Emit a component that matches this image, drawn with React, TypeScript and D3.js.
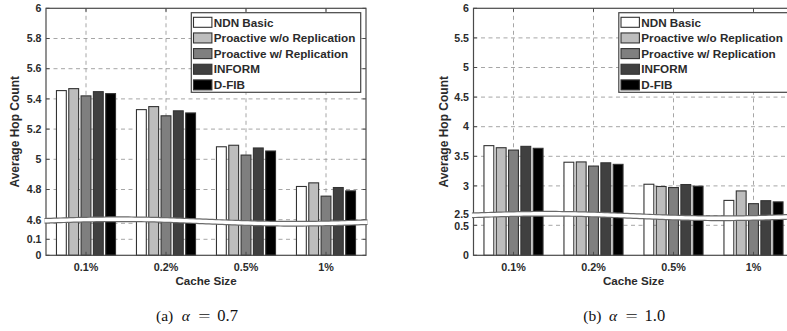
import React from 'react';
import * as d3 from 'd3';

const categories = ['0.1%', '0.2%', '0.5%', '1%'];
const seriesNames = ['NDN Basic', 'Proactive w/o Replication', 'Proactive w/ Replication', 'INFORM', 'D-FIB'];
const seriesColors = ['#ffffff', '#bdbdbd', '#7f7f7f', '#404040', '#000000'];

// (a) alpha = 0.7
const a07NdnBasic = [5.455, 5.329, 5.083, 4.82];
const a07ProNoRep = [5.468, 5.349, 5.093, 4.844];
const a07ProRep = [5.42, 5.288, 5.028, 4.756];
const a07Inform = [5.448, 5.321, 5.075, 4.813];
const a07Dfib = [5.435, 5.307, 5.055, 4.791];

// (b) alpha = 1.0
const a10NdnBasic = [3.68, 3.4, 3.028, 2.755];
const a10ProNoRep = [3.645, 3.405, 2.99, 2.915];
const a10ProRep = [3.605, 3.335, 2.972, 2.7];
const a10Inform = [3.668, 3.39, 3.023, 2.75];
const a10Dfib = [3.635, 3.364, 2.995, 2.73];

const a07Ticks = [0, 0.1, 4.6, 4.8, 5, 5.2, 5.4, 5.6, 5.8, 6];
const a07Grid = [0.1, 0.2, 4.6, 4.8, 5, 5.2, 5.4, 5.6, 5.8];
const a10Ticks = [0, 0.5, 2.5, 3, 3.5, 4, 4.5, 5, 5.5, 6];
const a10Grid = [0.5, 2.5, 3, 3.5, 4, 4.5, 5, 5.5];

const yTitle = 'Average Hop Count';
const xTitle = 'Cache Size';

const FONT = '"Liberation Sans", Arial, Helvetica, sans-serif';
const SERIF = '"Liberation Serif", "Times New Roman", serif';
const TXT = '#2b2b2b';
const AX = '#4a4a4a';

type PanelProps = {
  x0: number;
  x1: number;
  yDomain: number[];
  yRange: number[];
  ticks: number[];
  grid: number[];
  data: number[][];
  bandY0: number;
  titleX: number;
  nudge: { [k: string]: number };
};

function Panel({ x0, x1, yDomain, yRange, ticks, grid, data, bandY0, titleX, nudge }: PanelProps) {
  const x = d3.scaleBand<string>().domain(categories).range([x0, x1]).padding(0);
  const groupW = x.bandwidth() * (5 / 6.5);
  const xi = d3
    .scaleBand<string>()
    .domain(seriesNames)
    .range([-groupW / 2, groupW / 2])
    .paddingInner(0.2)
    .paddingOuter(0.1);
  const y = d3.scaleLinear().domain(yDomain).range(yRange);
  const yTop = y(6);
  const yBot = y(0);
  const tl = 3.5;

  const bandLine = d3
    .line<number>()
    .x((t) => x0 - 1.5 + t * (x1 - x0 + 3))
    .y((t) => bandY0 + 1.4 * t - 1.9 * Math.sin(2 * Math.PI * t));
  const bandPts = d3.range(0, 1.0001, 0.01);

  const legW = 169.4;
  const legX = x1 - 5.3 - legW;
  const legY = 12.7;
  const legH = 79.6;

  return (
    <g>
      {grid.map((g) => (
        <line key={'hg' + g} x1={x0} x2={x1} y1={y(g)} y2={y(g)} stroke="#9c9c9c" strokeWidth={0.9} strokeDasharray="4,3.5" />
      ))}
      {categories.map((c) => (
        <line key={'vg' + c} x1={x(c)! + x.bandwidth() / 2} x2={x(c)! + x.bandwidth() / 2} y1={yTop} y2={yBot} stroke="#9c9c9c" strokeWidth={0.9} strokeDasharray="4,3.5" />
      ))}
      {data.map((vals, si) =>
        vals.map((v, ci) => {
          const cx = x(categories[ci])! + x.bandwidth() / 2;
          const bx = cx + xi(seriesNames[si])!;
          return (
            <rect
              key={si + '-' + ci}
              x={bx}
              y={y(v)}
              width={xi.bandwidth()}
              height={yBot - y(v)}
              fill={seriesColors[si]}
              stroke="#333"
              strokeWidth={1.1}
            />
          );
        })
      )}
      <rect x={x0} y={yTop} width={x1 - x0} height={yBot - yTop} fill="none" stroke={AX} strokeWidth={1.2} />
      {ticks.map((t) => (
        <g key={'t' + t}>
          <line x1={x0} x2={x0 + tl} y1={y(t)} y2={y(t)} stroke={AX} strokeWidth={1} />
          <line x1={x1} x2={x1 - tl} y1={y(t)} y2={y(t)} stroke={AX} strokeWidth={1} />
          <text x={x0 - 4.5} y={y(t) + (nudge[String(t)] || 0)} dy="0.35em" textAnchor="end" fontFamily={FONT} fontWeight="bold" fontSize={10.6} fill={TXT}>
            {String(t)}
          </text>
        </g>
      ))}
      {categories.map((c) => {
        const cx = x(c)! + x.bandwidth() / 2;
        return (
          <g key={'xt' + c}>
            <line x1={cx} x2={cx} y1={yBot} y2={yBot - tl} stroke={AX} strokeWidth={1} />
            <line x1={cx} x2={cx} y1={yTop} y2={yTop + tl} stroke={AX} strokeWidth={1} />
            <text x={cx} y={yBot + 11.5} dy="0.35em" textAnchor="middle" fontFamily={FONT} fontWeight="bold" fontSize={10.8} fill={TXT}>
              {c}
            </text>
          </g>
        );
      })}
      <path d={bandLine(bandPts)!} fill="none" stroke="#6a6a6a" strokeWidth={5.8} />
      <path d={bandLine(bandPts)!} fill="none" stroke="#ffffff" strokeWidth={3.4} />
      <text x={(x0 + x1) / 2} y={281} dy="0.35em" textAnchor="middle" fontFamily={FONT} fontWeight="bold" fontSize={11.6} fill={TXT}>
        {xTitle}
      </text>
      <text
        transform={`translate(${titleX},${(yTop + yBot) / 2}) rotate(-90)`}
        dy="0.35em"
        textAnchor="middle"
        fontFamily={FONT}
        fontWeight="bold"
        fontSize={12}
        fill={TXT}
      >
        {yTitle}
      </text>
      <rect x={legX} y={legY} width={legW} height={legH} fill="#fff" stroke="#444" strokeWidth={1.2} />
      {seriesNames.map((s, i) => {
        const cy = 22.3 + i * 15.65;
        return (
          <g key={'lg' + s}>
            <rect x={legX + 2.2} y={cy - 5} width={18.4} height={10} fill={seriesColors[i]} stroke="#333" strokeWidth={1.1} />
            <text x={legX + 22.5} y={cy} dy="0.36em" fontFamily={FONT} fontWeight="bold" fontSize={11.7} fill={TXT}>
              {s}
            </text>
          </g>
        );
      })}
    </g>
  );
}

function Caption({ x, label, value }: { x: number; label: string; value: string }) {
  const base = 321;
  return (
    <g fontFamily={SERIF} fontSize={15.5} fill="#111">
      <text x={x} y={base}>{label}</text>
      <text x={x + 25.7} y={base} fontStyle="italic">α</text>
      <text x={x + 42.3} y={base} transform={`translate(${x + 42.3},${base}) scale(1.4,1) translate(${-(x + 42.3)},${-base})`}>=</text>
      <text x={x + 61.3} y={base} fontSize={16.5}>{value}</text>
    </g>
  );
}

export default function App() {
  const dataA = [a07NdnBasic, a07ProNoRep, a07ProRep, a07Inform, a07Dfib];
  const dataB = [a10NdnBasic, a10ProNoRep, a10ProRep, a10Inform, a10Dfib];
  return (
    <svg width={787} height={331} style={{ position: 'absolute', left: 0, top: 0, background: '#fff' }}>
      <rect x={0} y={0} width={787} height={331} fill="#fff" />
      <Panel
        x0={46}
        x1={366}
        yDomain={[0, 0.2, 4.6, 6]}
        yRange={[255.3, 223.3, 219.7, 8.3]}
        ticks={a07Ticks}
        grid={a07Grid}
        data={dataA}
        bandY0={220.8}
        titleX={15}
        nudge={{ '4.6': 0.5 }}
      />
      <Panel
        x0={473.5}
        x1={793.5}
        yDomain={[0, 0.5, 2.5, 6]}
        yRange={[255.3, 225.3, 215.5, 8.3]}
        ticks={a10Ticks}
        grid={a10Grid}
        data={dataB}
        bandY0={215.3}
        titleX={443.3}
        nudge={{ '2.5': -0.8, '0.5': 0.8 }}
      />
      <Caption x={156} label="(a)" value="0.7" />
      <Caption x={583.3} label="(b)" value="1.0" />
    </svg>
  );
}
